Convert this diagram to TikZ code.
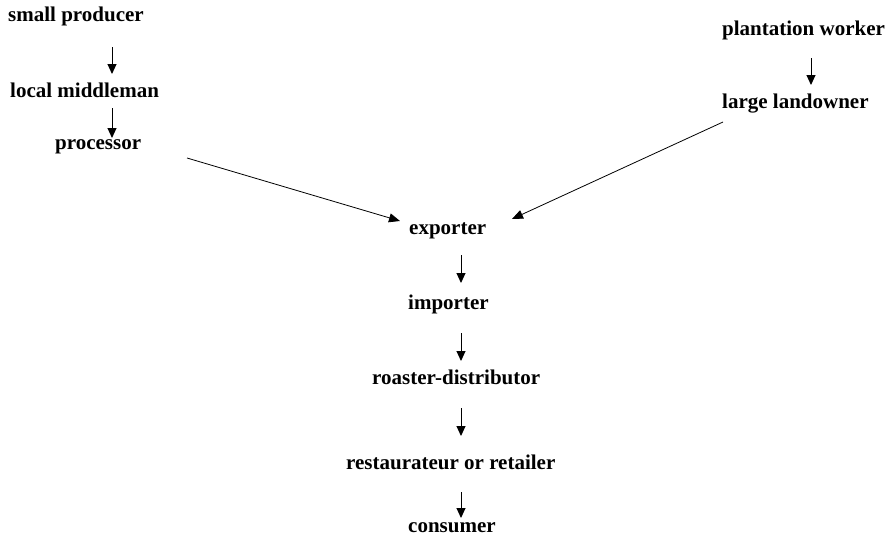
\documentclass[tikz,border=0pt]{standalone}
\usepackage{fontspec}
\setmainfont{Liberation Serif}
\usetikzlibrary{arrows.meta}
\begin{document}
\begin{tikzpicture}[x=1pt,y=-1pt,
  lbl/.style={anchor=base west,inner sep=0pt,font=\fontsize{21}{25}\selectfont\bfseries},
  arr/.style={draw=black,line width=1pt,-{Triangle[length=10pt,width=9pt]}},
  darr/.style={draw=black,line width=0.8pt,-{Triangle[length=11pt,width=9pt]}}]
\useasboundingbox (0,0) rectangle (887,538);
\node[lbl] (sp) at (8,21) {small producer};
\node[lbl] (lm) at (10,97) {local middleman};
\node[lbl] (pr) at (55,149) {processor};
\node[lbl] (pw) at (722,35) {plantation worker};
\node[lbl] (ll) at (722,108) {large landowner};
\node[lbl] (ex) at (409,234) {exporter};
\node[lbl] (im) at (408,309) {importer};
\node[lbl] (rd) at (372,384) {roaster-distributor};
\node[lbl] (rr) at (346,469) {restaurateur or retailer};
\node[lbl] (co) at (408,532) {consumer};
% arrow end points
\coordinate (a1s) at (112,47);  \coordinate (a1e) at (112,74);
\coordinate (a2s) at (112,108); \coordinate (a2e) at (112,138);
\coordinate (a3s) at (811,58);  \coordinate (a3e) at (811,85);
\coordinate (a4s) at (461,255); \coordinate (a4e) at (461,283);
\coordinate (a5s) at (461,333); \coordinate (a5e) at (461,361);
\coordinate (a6s) at (461,408); \coordinate (a6e) at (461,436);
\coordinate (a7s) at (461,492); \coordinate (a7e) at (461,518);
\coordinate (d1s) at (187,158); \coordinate (d1e) at (400,221);
\coordinate (d2s) at (723,122); \coordinate (d2e) at (512,219);
\draw[arr] (a1s) -- (a1e);
\draw[arr] (a2s) -- (a2e);
\draw[arr] (a3s) -- (a3e);
\draw[arr] (a4s) -- (a4e);
\draw[arr] (a5s) -- (a5e);
\draw[arr] (a6s) -- (a6e);
\draw[arr] (a7s) -- (a7e);
\draw[darr] (d1s) -- (d1e);
\draw[darr] (d2s) -- (d2e);
\end{tikzpicture}
\end{document}
